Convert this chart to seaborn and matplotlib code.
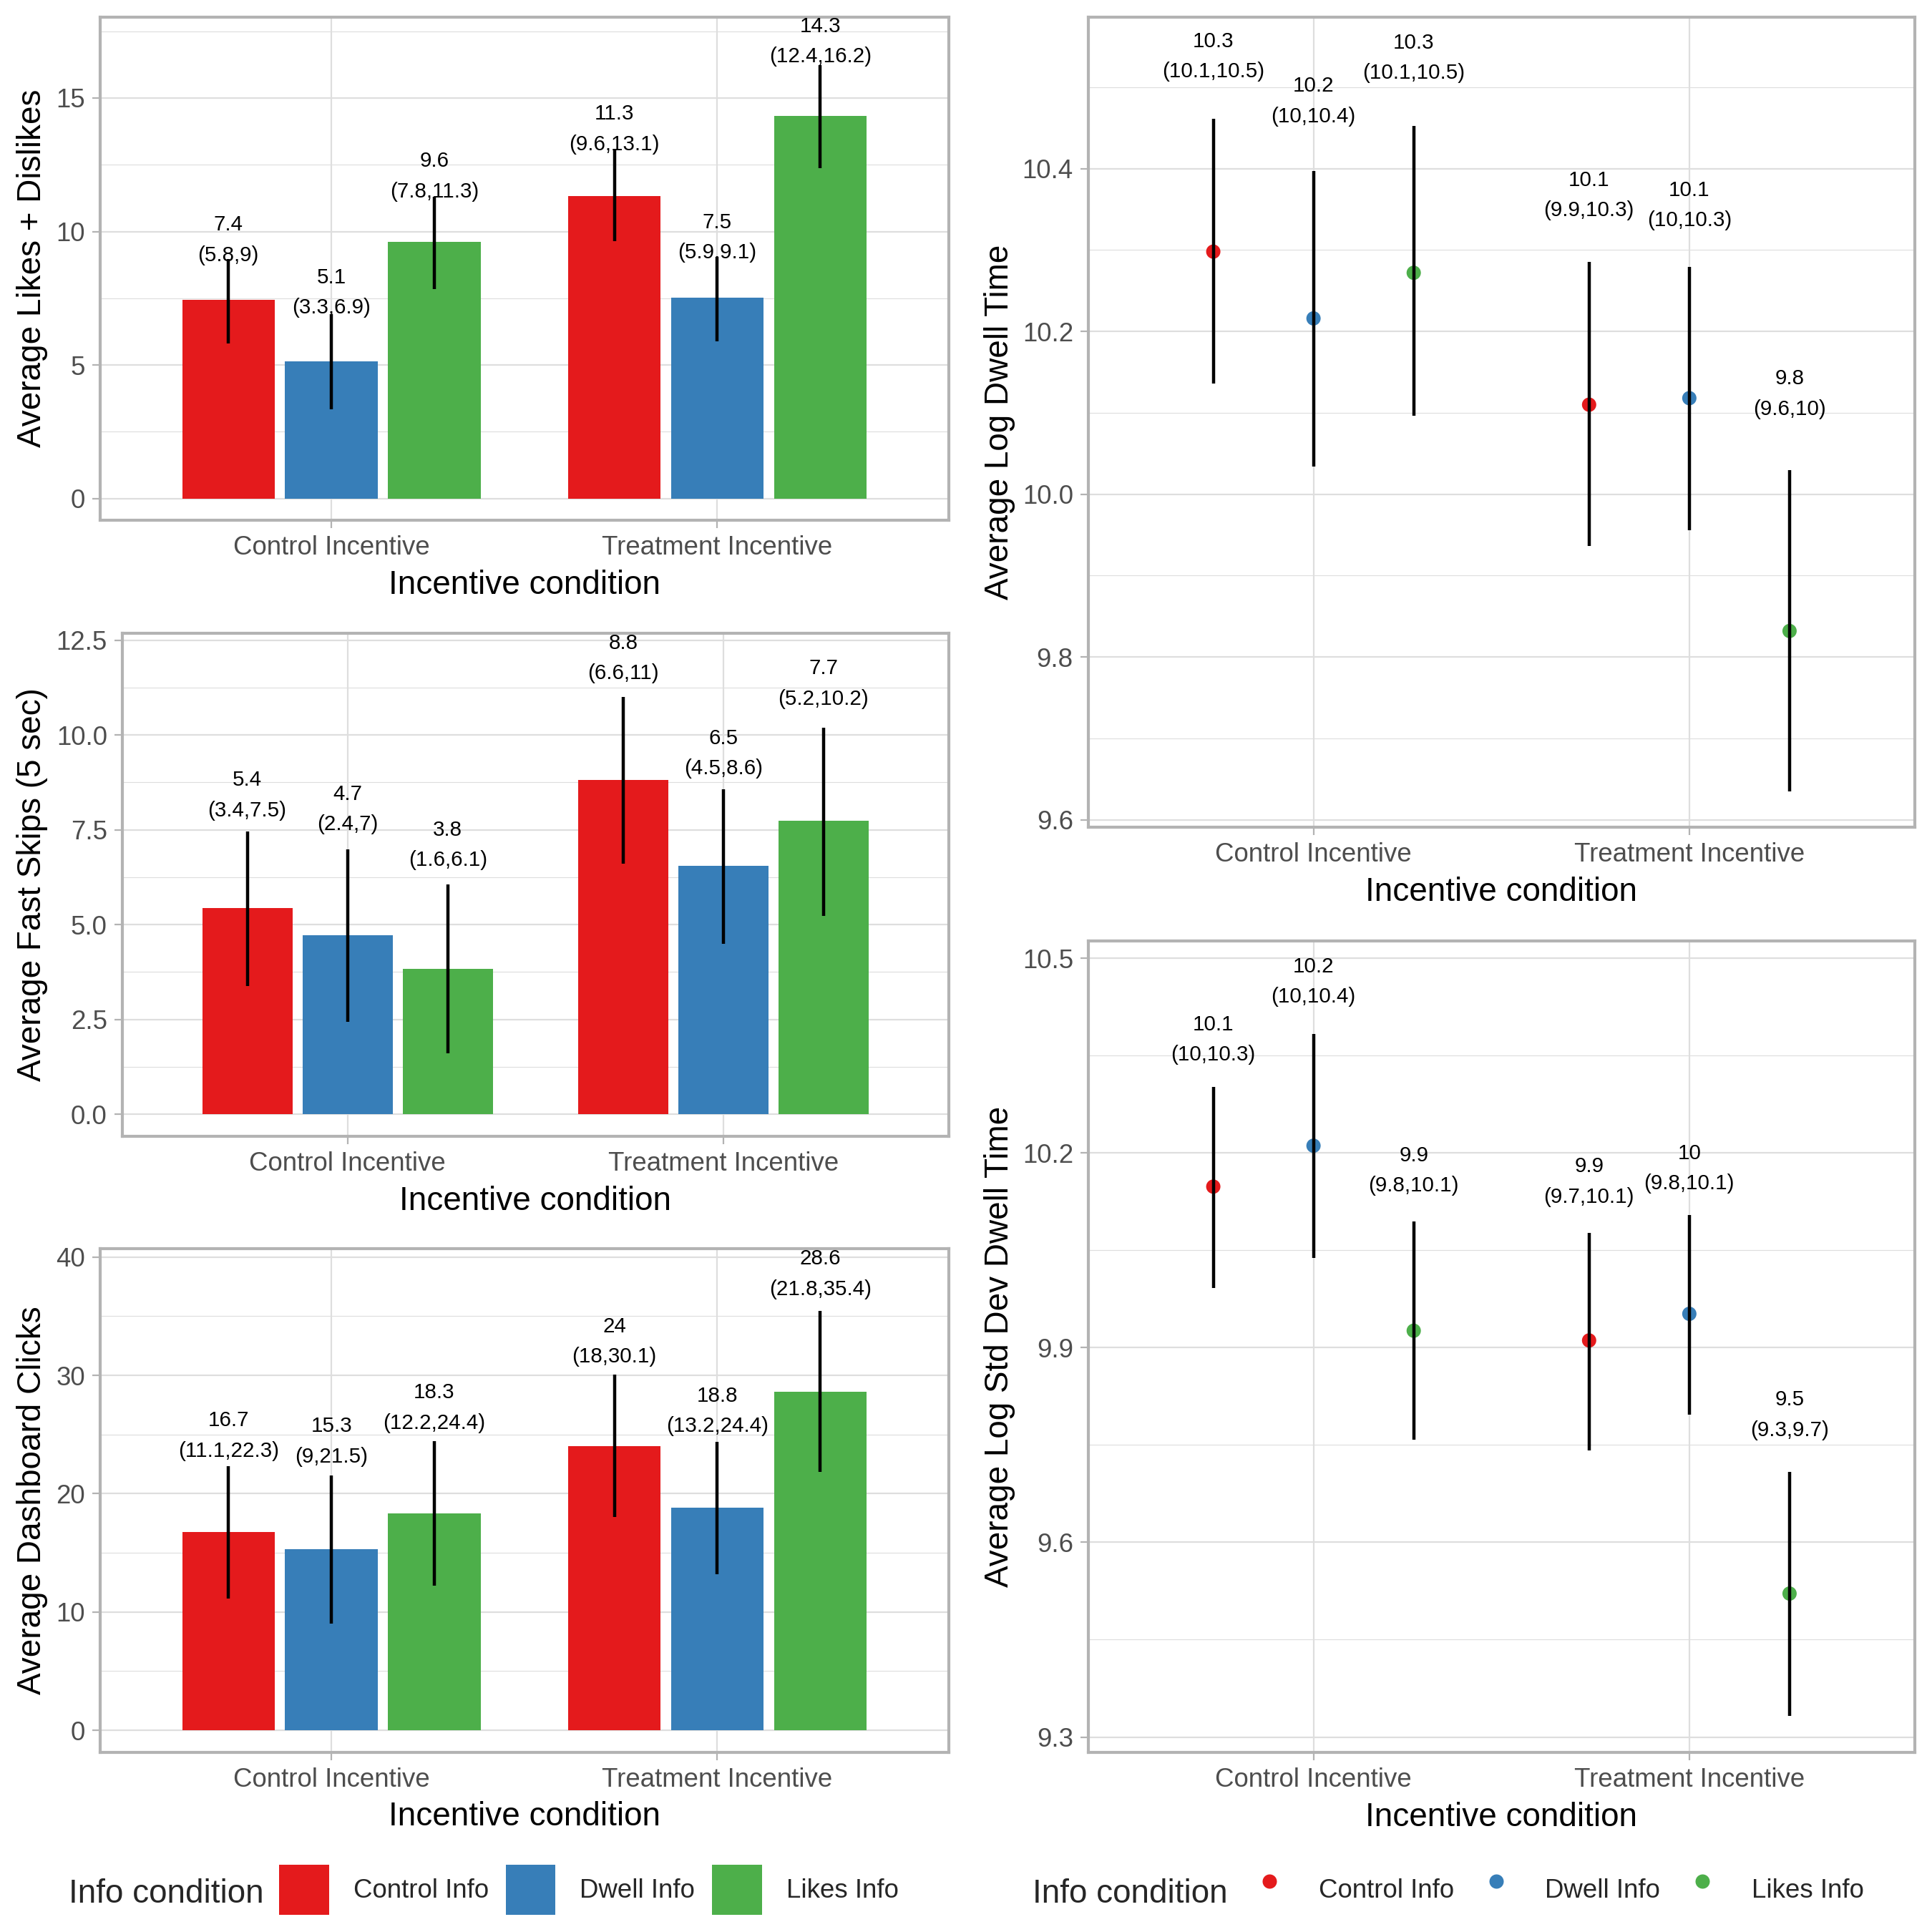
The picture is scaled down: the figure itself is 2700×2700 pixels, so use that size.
import numpy as np
import pandas as pd
import matplotlib
matplotlib.use("Agg")
import matplotlib.pyplot as plt
import seaborn as sns
from matplotlib.patches import Patch
from matplotlib.lines import Line2D
from matplotlib.ticker import FixedLocator, FormatStrFormatter

# ---------------- data ----------------
incentives = ["Control Incentive", "Treatment Incentive"]
infos = ["Control Info", "Dwell Info", "Likes Info"]
colors = ["#E41A1C", "#377EB8", "#4DAF4A"]

# order: Control Incentive (Control, Dwell, Likes), Treatment Incentive (Control, Dwell, Likes)
likes_mean = [7.44, 5.14, 9.62, 11.34, 7.52, 14.32]
likes_lo = [5.82, 3.34, 7.84, 9.64, 5.90, 12.37]
likes_hi = [8.97, 6.90, 11.29, 13.06, 9.06, 16.23]

skips_mean = [5.43, 4.72, 3.84, 8.82, 6.54, 7.74]
skips_lo = [3.37, 2.43, 1.60, 6.61, 4.50, 5.23]
skips_hi = [7.46, 6.98, 6.06, 11.00, 8.57, 10.19]

clicks_mean = [16.74, 15.34, 18.34, 24.04, 18.84, 28.64]
clicks_lo = [11.14, 9.02, 12.24, 18.04, 13.22, 21.82]
clicks_hi = [22.32, 21.52, 24.44, 30.06, 24.41, 35.42]

dwell_mean = [10.298, 10.216, 10.272, 10.110, 10.118, 9.832]
dwell_lo = [10.136, 10.034, 10.096, 9.936, 9.956, 9.635]
dwell_hi = [10.461, 10.397, 10.452, 10.285, 10.279, 10.030]

sd_mean = [10.148, 10.211, 9.926, 9.911, 9.952, 9.521]
sd_lo = [9.992, 10.038, 9.758, 9.741, 9.797, 9.333]
sd_hi = [10.302, 10.383, 10.094, 10.077, 10.104, 9.708]


def make_df(mean, lo, hi):
    return pd.DataFrame({
        "incentive": np.repeat(incentives, len(infos)),
        "info": infos * len(incentives),
        "mean": mean, "lo": lo, "hi": hi,
    })


def fmt(v):
    return f"{round(v, 1):g}"


# ---------------- style ----------------
sns.set_theme(style="white")
plt.rcParams["font.family"] = ["Liberation Sans", "DejaVu Sans"]

W = H = 2700
PX2PT = 72 / 300
fig = plt.figure(figsize=(9, 9), dpi=300)

GRID = "#DEDEDE"
BORDER = "#B3B3B3"
DODGE = 0.8 / 3
LABEL_K = 0.24          # label anchor = hi + K * (hi - lo)
CI_OFF_PX = -23         # CI line centre relative to anchor
LINE_GAP_PX = 42.5      # distance between the two label lines


def style(ax, box, ylim, major, minor, fstr, ylabel, ylab_x, xlab_base):
    x0, y0, x1, y1 = box
    ax.set_position([x0 / W, 1 - y1 / H, (x1 - x0) / W, (y1 - y0) / H])
    ax.set_xlim(-0.6, 1.6)
    ax.set_ylim(*ylim)
    ax.set_xticks([0, 1])
    ax.set_xticklabels(incentives)
    ax.yaxis.set_major_locator(FixedLocator(major))
    ax.yaxis.set_minor_locator(FixedLocator(minor))
    ax.yaxis.set_major_formatter(FormatStrFormatter(fstr))
    ax.grid(which="major", color=GRID, lw=0.53)
    ax.grid(which="minor", axis="y", color=GRID, lw=0.27)
    ax.grid(which="minor", axis="x", visible=False)
    ax.set_axisbelow(True)
    ax.set_facecolor("white")
    for s in ax.spines.values():
        s.set_visible(True)
        s.set_color(BORDER)
        s.set_linewidth(1.0)
    ax.tick_params(which="major", length=2.75, width=0.53, color=BORDER,
                   labelsize=8.8, labelcolor="#4D4D4D", pad=2.2,
                   bottom=True, left=True)
    ax.tick_params(which="minor", length=0)
    ax.set_xlabel("Incentive condition", fontsize=11, color="black")
    ax.set_ylabel(ylabel, fontsize=11, color="black")
    ax.xaxis.set_label_coords(0.5, (y1 - xlab_base) / (y1 - y0))
    ax.xaxis.label.set_va("baseline")
    ax.yaxis.set_label_coords((ylab_x - x0) / (x1 - x0), 0.5)
    ax.yaxis.label.set_va("baseline")


def add_labels(ax, x, row):
    anchor = row["hi"] + LABEL_K * (row["hi"] - row["lo"])
    ax.annotate(f"({fmt(row['lo'])},{fmt(row['hi'])})", (x, anchor),
                xytext=(0, CI_OFF_PX * PX2PT), textcoords="offset points",
                ha="center", va="center", fontsize=7.1, color="black",
                annotation_clip=False)
    ax.annotate(fmt(row["mean"]), (x, anchor),
                xytext=(0, (CI_OFF_PX + LINE_GAP_PX) * PX2PT), textcoords="offset points",
                ha="center", va="center", fontsize=7.1, color="black",
                annotation_clip=False)


def bar_panel(box, df, ylim, major, minor, fstr, ylabel, xlab_base):
    ax = fig.add_axes([0, 0, 1, 1])
    sns.barplot(data=df, x="incentive", y="mean", hue="info", order=incentives,
                hue_order=infos, palette=colors, width=0.8, gap=0.1,
                saturation=1, errorbar=None, linewidth=0, edgecolor="none",
                legend=False, ax=ax)
    for i, cont in enumerate(ax.containers):
        for j, bar in enumerate(cont):
            xc = bar.get_x() + bar.get_width() / 2
            row = df[(df["incentive"] == incentives[j]) & (df["info"] == infos[i])].iloc[0]
            ax.vlines(xc, row["lo"], row["hi"], color="black", lw=1.07, zorder=4)
            add_labels(ax, xc, row)
    style(ax, box, ylim, major, minor, fstr, ylabel, 57, xlab_base)
    return ax


def point_panel(box, df, ylim, major, minor, fstr, ylabel, xlab_base):
    ax = fig.add_axes([0, 0, 1, 1])
    df = df.copy()
    df["xpos"] = [incentives.index(a) + (infos.index(b) - 1) * DODGE
                  for a, b in zip(df["incentive"], df["info"])]
    sns.scatterplot(data=df, x="xpos", y="mean", hue="info", hue_order=infos,
                    palette=colors, s=23, linewidth=0, legend=False, zorder=3, ax=ax)
    ax.vlines(df["xpos"], df["lo"], df["hi"], color="black", lw=1.07, zorder=4)
    for _, row in df.iterrows():
        add_labels(ax, row["xpos"], row)
    style(ax, box, ylim, major, minor, fstr, ylabel, 1409, xlab_base)
    return ax


bar_panel((139.5, 23.5, 1326, 727), make_df(likes_mean, likes_lo, likes_hi),
          (-0.81, 18.04), [0, 5, 10, 15], [2.5, 7.5, 12.5, 17.5], "%d",
          "Average Likes + Dislikes", 830)
bar_panel((170.5, 884.7, 1326, 1588.3), make_df(skips_mean, skips_lo, skips_hi),
          (-0.589, 12.687), [0, 2.5, 5, 7.5, 10, 12.5],
          [1.25, 3.75, 6.25, 8.75, 11.25], "%.1f",
          "Average Fast Skips (5 sec)", 1691)
bar_panel((139.5, 1744.7, 1326, 2449.4), make_df(clicks_mean, clicks_lo, clicks_hi),
          (-1.89, 40.73), [0, 10, 20, 30, 40], [5, 15, 25, 35], "%d",
          "Average Dashboard Clicks", 2551)
point_panel((1520.5, 24, 2676, 1156), make_df(dwell_mean, dwell_lo, dwell_hi),
            (9.591, 10.586), [9.6, 9.8, 10.0, 10.2, 10.4],
            [9.7, 9.9, 10.1, 10.3, 10.5], "%.1f",
            "Average Log Dwell Time", 1259)
point_panel((1520.5, 1315, 2676, 2449), make_df(sd_mean, sd_lo, sd_hi),
            (9.2763, 10.5265), [9.3, 9.6, 9.9, 10.2, 10.5],
            [9.45, 9.75, 10.05, 10.35], "%.1f",
            "Average Log Std Dev Dwell Time", 2552)

# ---------------- legends ----------------
leg_y = 1 - 2641 / H
fig.text(96 / W, 1 - 2659 / H, "Info condition", fontsize=11, va="baseline", ha="left")
fig.text(1443 / W, 1 - 2659 / H, "Info condition", fontsize=11, va="baseline", ha="left")

bar_handles = [Patch(facecolor=c, edgecolor="none") for c in colors]
fig.legend(bar_handles, infos, loc="center left", bbox_to_anchor=(390 / W, leg_y),
           ncol=3, frameon=False, fontsize=8.8, handlelength=1.9, handleheight=2.55,
           handletextpad=0.93, columnspacing=0.65, borderpad=0, borderaxespad=0)

pt_handles = [Line2D([], [], marker="o", ls="none", markersize=4.8,
                     markerfacecolor=c, markeredgewidth=0, color=c) for c in colors]
fig.legend(pt_handles, infos, loc="center left", bbox_to_anchor=(1739 / W, leg_y),
           ncol=3, frameon=False, fontsize=8.8, handlelength=1.9, handleheight=2.55,
           handletextpad=0.93, columnspacing=0.65, borderpad=0, borderaxespad=0)

fig.savefig("out.png", dpi=300, facecolor="white")
